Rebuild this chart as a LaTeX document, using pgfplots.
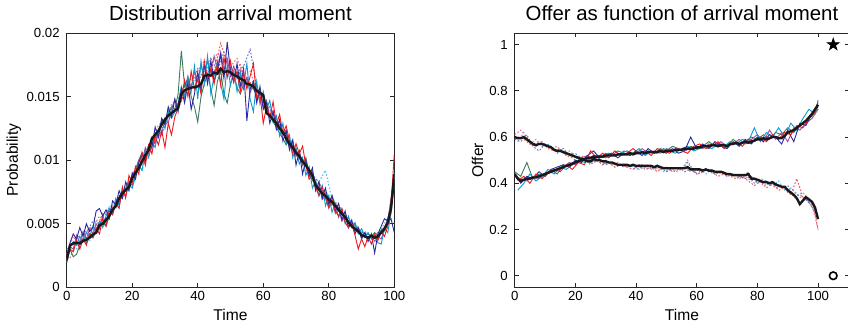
\documentclass[border=0pt]{standalone}
\usepackage{pgfplots}
\pgfplotsset{compat=1.18}
\usepackage{pgfplotstable}
\usepackage{fontspec}
\setmainfont{Liberation Sans}
\definecolor{cB}{rgb}{0.16,0.16,0.63}
\definecolor{cR}{rgb}{0.93,0.1,0.12}
\definecolor{cG}{rgb}{0.24,0.48,0.36}
\definecolor{cC}{rgb}{0.05,0.6,0.8}
\definecolor{cP}{rgb}{0.63,0.3,0.63}
\definecolor{dP}{rgb}{0.93,0.45,0.6}
\definecolor{dC}{rgb}{0.35,0.75,0.9}
\definecolor{dB}{rgb}{0.45,0.45,0.8}
\definecolor{dR}{rgb}{0.95,0.35,0.35}
\pgfdeclareplotmark{pstar}{%
\pgfpathmoveto{\pgfpointpolar{90}{\pgfplotmarksize}}%
\pgfpathlineto{\pgfpointpolar{126}{0.382\pgfplotmarksize}}%
\pgfpathlineto{\pgfpointpolar{162}{\pgfplotmarksize}}%
\pgfpathlineto{\pgfpointpolar{198}{0.382\pgfplotmarksize}}%
\pgfpathlineto{\pgfpointpolar{234}{\pgfplotmarksize}}%
\pgfpathlineto{\pgfpointpolar{270}{0.382\pgfplotmarksize}}%
\pgfpathlineto{\pgfpointpolar{306}{\pgfplotmarksize}}%
\pgfpathlineto{\pgfpointpolar{342}{0.382\pgfplotmarksize}}%
\pgfpathlineto{\pgfpointpolar{18}{\pgfplotmarksize}}%
\pgfpathlineto{\pgfpointpolar{54}{0.382\pgfplotmarksize}}%
\pgfpathclose\pgfusepathqfillstroke}

\pgfplotstableread{
x m a b c d e
0 215 240 200 220 190 250
1 330 350 300 300 310 320
2 345 420 280 240 360 300
3 350 380 370 260 330 410
4 345 470 300 330 400 350
5 365 400 380 380 360 440
6 375 500 330 350 430 380
7 390 440 420 420 400 460
8 415 470 390 390 480 420
9 430 600 470 440 430 500
10 490 620 420 470 520 460
11 500 560 540 510 470 560
12 530 610 480 480 560 510
13 560 540 600 560 620 620
14 610 680 570 600 580 580
15 640 650 660 640 700 680
16 700 760 620 690 640 650
17 740 700 790 720 760 760
18 765 830 700 780 720 720
19 790 760 880 820 810 830
20 860 900 820 880 780 800
21 900 850 950 930 870 890
22 940 980 890 1000 960 1000
23 990 1050 1060 1060 920 980
24 1040 990 960 1000 1080 1100
25 1080 1120 1120 1090 1020 1050
26 1170 1100 1050 1150 1140 1180
27 1200 1260 1190 1210 1100 1130
28 1230 1180 1120 1180 1230 1240
29 1280 1330 1230 1320 1300 1200
30 1320 1280 1100 1290 1250 1330
31 1350 1420 1290 1360 1390 1290
32 1370 1340 1200 1420 1330 1400
33 1390 1480 1340 1400 1380 1470
34 1410 1380 1410 1520 1450 1420
35 1520 1560 1480 1860 1580 1560
36 1550 1450 1630 1580 1500 1490
37 1560 1610 1500 1650 1660 1650
38 1570 1400 1700 1500 1540 1570
39 1575 1520 1560 1420 1740 1700
40 1580 1690 1640 1300 1480 1620
41 1600 1550 1520 1500 1780 1750
42 1660 1750 1780 1600 1600 1650
43 1670 1600 1640 1680 1820 1790
44 1665 1780 1720 1560 1520 1680
45 1690 1620 1600 1430 1660 1820
46 1680 1700 1760 1620 1780 1720
47 1720 1830 1590 1700 1600 1850
48 1690 1640 1810 1520 1480 1700
49 1700 1930 1650 1450 1750 1800
50 1690 1700 1780 1600 1590 1660
51 1670 1610 1620 1680 1700 1740
52 1660 1760 1700 1570 1540 1640
53 1640 1580 1540 1520 1680 1700
54 1630 1720 1690 1600 1590 1560
55 1600 1310 1560 1650 1760 1650
56 1595 1560 1660 1580 1480 1530
57 1580 1620 1760 1560 1380 1600
58 1545 1450 1490 1510 1620 1480
59 1530 1580 1520 1480 1440 1550
60 1510 1400 1290 1470 1540 1420
61 1370 1450 1420 1400 1400 1470
62 1350 1290 1330 1350 1470 1340
63 1320 1380 1460 1300 1300 1390
64 1290 1240 1280 1260 1350 1270
65 1250 1320 1360 1210 1190 1310
66 1220 1150 1210 1170 1290 1200
67 1170 1230 1270 1120 1130 1240
68 1130 1080 1150 1160 1200 1100
69 1100 1160 1050 1080 1020 1150
70 1060 960 1130 1040 1100 1030
71 1030 1070 1050 1060 970 1070
72 990 890 1110 960 1020 970
73 960 1000 960 1020 880 1000
74 920 870 850 900 950 880
75 880 940 880 840 780 910
76 800 760 790 820 840 760
77 770 830 720 780 720 800
78 740 700 790 730 800 690
79 720 780 700 700 640 720
80 690 650 630 670 720 620
81 670 720 690 720 590 680
82 640 600 600 650 660 580
83 610 660 560 600 550 620
84 580 530 620 570 610 520
85 550 600 510 550 500 560
86 510 470 470 520 560 470
87 480 530 500 480 470 510
88 460 420 410 500 510 440
89 440 470 300 440 420 470
90 410 380 380 420 460 400
91 400 430 320 410 400 430
92 390 360 400 420 430 380
93 405 420 340 400 380 410
94 390 270 420 430 420 360
95 400 420 370 410 350 400
96 430 480 440 450 340 380
97 460 540 400 470 460 450
98 510 520 480 520 430 520
99 620 540 650 600 580 700
100 890 430 1050 800 900 880
}\leftdata

\pgfplotstableread{
x up down
0 44 60
1 42 59.5
2 41 59.5
3 41.5 60
4 42 59
5 42 58
6 42.5 57
7 42.5 56.5
8 43 57
9 43.5 57
10 44 56.5
11 44.5 56
12 45 55.5
13 45.5 54.5
14 46 54
15 46.5 54
16 47 53.5
17 47.5 53
18 48 52.5
19 48.5 52
20 49 51.5
21 49.5 51
22 50 50.5
23 50.5 50
24 51 49.5
25 51 49.5
26 51.5 50.5
27 51.5 50
28 51.5 50
29 51.5 49.5
30 52 49.5
31 52 49
32 52 49
33 52 48.5
34 52.5 48
35 52.5 48
36 52.5 48
37 52.5 48
38 53 47.5
39 52.5 48
40 53 47.5
41 53 47.5
42 53.5 47.5
43 53 47.5
44 53.5 47.5
45 53.5 47.5
46 53.5 47
47 53.5 47.5
48 54 47
49 53.5 46.5
50 54 46.5
51 54 46.5
52 54 46.5
53 54.5 46.5
54 54.5 46.5
55 54.5 46.5
56 55 46.5
57 55 47
58 55 46
59 55 46
60 55.5 46
61 55.5 46
62 56 45.5
63 56 46
64 56 45.5
65 56.5 45.5
66 56.5 45
67 56 45
68 56.5 45
69 56.5 44.5
70 56 44
71 57 44
72 57 43.5
73 57.5 43.5
74 57 43.5
75 57.5 43.5
76 58 43.5
77 57.5 44
78 58 42
79 58.5 42
80 59 41.5
81 59 41
82 59.5 40.5
83 59 40.5
84 59.5 40
85 60 40.5
86 60 39.5
87 59.5 39
88 59.5 38.5
89 60.5 38.5
90 62 37
91 62.5 36
92 63 35
93 64 33.5
94 65 31
95 66 32.5
96 67 34
97 68.5 33
98 70 32
99 72 29.5
100 74 24.5
}\rightdata

\pgfplotsset{myaxis/.style={
  scale only axis, height=127.15pt,
  axis line style={line width=0.5pt, black!85},
  every tick/.style={black!85, line width=0.4pt},
  major tick length=2pt,
  tick label style={font=\fontsize{6.6}{7.5}\selectfont},
  label style={font=\fontsize{7.8}{9}\selectfont},
  title style={font=\fontsize{10.2}{12}\selectfont, at={(0.5,1)}, anchor=base, yshift=0.5pt},
  xlabel style={at={(axis description cs:0.5,0)}, anchor=base, yshift=-16.8pt},
  xtick={0,20,...,100},
  xticklabel style={inner sep=1.6pt},
  /pgf/number format/assume math mode=true,
  sol/.style={line width=0.45pt},
  dot/.style={line width=0.5pt, dash pattern=on 0.8pt off 0.9pt},
  mean/.style={line width=1.2pt, black!90},
}}

\begin{document}
\begin{tikzpicture}
\begin{axis}[myaxis, at={(33.35pt,20.85pt)}, anchor=south west, width=163.8pt,
  xmin=0, xmax=100, ymin=0, ymax=2000,
  ytick={0,500,1000,1500,2000}, yticklabels={0,0.005,0.01,0.015,0.02},
  title={Distribution arrival moment}, xlabel={Time}, ylabel={Probability},
  ylabel style={at={(axis description cs:-0.161,0.5)}, anchor=center}]
\addplot[dot, dP] coordinates {(0,260) (2,400) (4,330) (6,450) (8,470) (10,560) (12,500) (14,650) (16,660) (18,800) (20,850) (22,960) (24,1080) (26,1130) (28,1280) (30,1300) (32,1440) (34,1480) (36,1600) (38,1650) (40,1700) (42,1780) (44,1750) (46,1840) (48,1780) (50,1740) (52,1800) (54,1660) (56,1700) (58,1560) (60,1500) (62,1420) (64,1300) (66,1250) (68,1150) (70,1100) (72,980) (74,940) (76,820) (78,800) (80,700) (82,660) (84,600) (86,520) (88,500) (90,430) (92,420) (94,400) (96,430) (98,520) (100,850)};
\addplot[dot, dC] coordinates {(1,280) (3,300) (5,420) (7,360) (9,520) (11,480) (13,640) (15,620) (17,780) (19,760) (21,940) (23,920) (25,1100) (27,1150) (29,1310) (31,1340) (33,1480) (35,1500) (37,1640) (39,1620) (41,1720) (43,1680) (45,1800) (47,1700) (49,1770) (51,1640) (53,1720) (55,1580) (57,1600) (59,1460) (61,1440) (63,1360) (65,1280) (67,1160) (69,1120) (71,1010) (73,960) (75,870) (77,830) (79,920) (81,690) (83,650) (85,560) (87,520) (89,440) (91,440) (93,400) (95,420) (97,500) (99,600)};
\addplot[dot, dB] coordinates {(0,300) (2,340) (4,410) (6,430) (8,520) (10,500) (12,600) (14,620) (16,720) (18,760) (20,880) (22,930) (24,1020) (26,1090) (28,1200) (30,1290) (32,1380) (34,1400) (36,1540) (38,1590) (40,1720) (42,1640) (44,1800) (46,1700) (48,1850) (50,1720) (52,1680) (54,1740) (56,1870) (58,1580) (60,1500) (62,1400) (64,1330) (66,1220) (68,1180) (70,1060) (72,1020) (74,900) (76,860) (78,780) (80,720) (82,640) (84,620) (86,540) (88,480) (90,440) (92,380) (94,420) (96,440) (98,480) (100,820)};
\addplot[dot, dR] coordinates {(1,230) (3,350) (5,380) (7,470) (9,450) (11,580) (13,560) (15,690) (17,700) (19,850) (21,880) (23,980) (25,1020) (27,1180) (29,1200) (31,1320) (33,1380) (35,1460) (37,1600) (39,1680) (41,1650) (43,1760) (45,1700) (47,1920) (49,1760) (51,1700) (53,1750) (55,1600) (57,1620) (59,1480) (61,1420) (63,1320) (65,1260) (67,1200) (69,1080) (71,1040) (73,920) (75,880) (77,780) (79,740) (81,640) (83,600) (85,560) (87,480) (89,460) (91,400) (93,380) (95,400) (97,460) (99,620)};
\addplot[sol, cG] table[x=x, y=c] {\leftdata};
\addplot[sol, cP] table[x=x, y=e] {\leftdata};
\addplot[sol, cC] table[x=x, y=d] {\leftdata};
\addplot[sol, cB] table[x=x, y=a] {\leftdata};
\addplot[sol, cR] table[x=x, y=b] {\leftdata};
\addplot[mean] table[x=x, y=m] {\leftdata};
\end{axis}

\begin{axis}[myaxis, at={(257.35pt,20.85pt)}, anchor=south west, width=167.3pt,
  xmin=0, xmax=110.3, ymin=-5, ymax=105,
  ytick={0,20,...,100}, yticklabels={0,0.2,0.4,0.6,0.8,1},
  title={Offer as function of arrival moment}, xlabel={Time}, ylabel={Offer},
  ylabel style={at={(axis description cs:-0.111,0.5)}, anchor=center}]
\addplot[dot, dP] coordinates {(0,61) (2,63) (4,60) (6,57) (8,58) (10,57) (12,55) (14,56) (16,53) (18,54) (20,51) (22,52) (24,50) (26,51) (28,49) (30,50) (32,48) (34,49) (36,47) (38,48) (40,47) (42,48) (44,46) (46,47) (48,46) (50,47) (52,45) (54,46) (56,47) (58,45) (60,46) (62,45) (64,46) (66,44) (68,45) (70,43) (72,44) (74,42) (76,43) (78,41) (80,42) (82,39) (84,40) (86,38) (88,39) (90,36) (92,37) (94,34) (96,33) (98,31) (100,20)};
\addplot[dot, dC] coordinates {(1,58) (3,62) (5,57) (7,59) (9,56) (11,57) (13,54) (15,55) (17,52) (19,53) (21,50) (23,51) (25,49) (27,50) (29,48) (31,49) (33,47) (35,48) (37,47) (39,48) (41,46) (43,47) (45,46) (47,48) (49,45) (51,46) (53,47) (55,46) (57,50) (59,45) (61,46) (63,44) (65,46) (67,44) (69,45) (71,43) (73,44) (75,42) (77,45) (79,40) (81,42) (83,41) (85,39) (87,41) (89,37) (91,38) (93,35) (95,36) (97,33) (99,28)};
\addplot[dot, dB] coordinates {(0,59) (2,58) (4,61) (6,56) (8,54) (10,57) (12,56) (14,53) (16,55) (18,52) (20,53) (22,50) (24,51) (26,49) (28,50) (30,48) (32,49) (34,48) (36,47) (38,48) (40,46) (42,47) (44,48) (46,46) (48,47) (50,45) (52,46) (54,47) (56,45) (58,46) (60,44) (62,46) (64,45) (66,44) (68,45) (70,43) (72,44) (74,43) (76,42) (78,43) (80,40) (82,41) (84,39) (86,40) (88,38) (90,39) (92,34) (94,35) (96,33) (98,30) (100,26)};
\addplot[dot, dR] coordinates {(1,60) (3,59) (5,57) (7,56) (9,58) (11,55) (13,54) (15,55) (17,52) (19,51) (21,49) (23,51) (25,48) (27,50) (29,48) (31,49) (33,47) (35,48) (37,47) (39,46) (41,48) (43,46) (45,47) (47,45) (49,47) (51,46) (53,45) (55,46) (57,49) (59,45) (61,44) (63,46) (65,45) (67,43) (69,44) (71,43) (73,42) (75,43) (77,41) (79,39) (81,41) (83,38) (85,40) (87,37) (89,38) (91,35) (93,42) (95,34) (97,32) (99,27) (100,20)};
\addplot[sol, cG] coordinates {(0,45) (2,43) (4,49) (6,42) (8,44) (10,43) (12,46) (14,44) (16,48) (18,47) (20,49) (22,51) (24,50) (26,52) (28,51) (30,53) (32,52) (34,54) (36,53) (38,52) (40,54) (42,53) (44,54) (46,53) (48,55) (50,54) (52,56) (54,55) (56,54) (58,56) (60,55) (62,56) (64,58) (66,56) (68,57) (70,56) (72,59) (74,57) (76,58) (78,60) (80,59) (82,61) (84,59) (86,62) (88,61) (90,64) (92,62) (94,65) (96,67) (98,69) (100,72)};
\addplot[sol, cP] coordinates {(0,43) (2,42) (4,41) (6,43) (8,42) (10,44) (12,45) (14,46) (16,47) (18,49) (20,48) (22,51) (24,52) (26,50) (28,52) (30,51) (32,53) (34,52) (36,54) (38,53) (40,53) (42,55) (44,53) (46,54) (48,53) (50,55) (52,54) (54,55) (56,54) (58,55) (60,56) (62,55) (64,57) (66,56) (68,58) (70,56) (72,57) (74,59) (76,57) (78,59) (80,61) (82,58) (84,63) (86,59) (88,62) (90,58) (92,64) (94,63) (96,66) (98,68) (100,72)};
\addplot[sol, cC] coordinates {(1,37) (3,40) (5,44) (7,41) (9,43) (11,46) (13,44) (15,47) (17,46) (19,48) (21,50) (23,49) (25,51) (27,50) (29,52) (31,53) (33,52) (35,53) (37,54) (39,53) (41,55) (43,52) (45,54) (47,53) (49,55) (51,54) (53,53) (55,55) (57,56) (59,54) (61,55) (63,56) (65,55) (67,57) (69,56) (71,58) (73,57) (75,59) (77,58) (79,64) (81,58) (83,62) (85,60) (87,64) (89,60) (91,66) (93,63) (95,68) (97,72) (99,70) (100,76)};
\addplot[sol, cB] coordinates {(0,44) (2,40) (4,43) (6,42) (8,45) (10,43) (12,46) (14,47) (16,48) (18,47) (20,50) (22,49) (24,52) (26,54) (28,51) (30,52) (32,53) (34,51) (36,53) (38,52) (40,54) (42,52) (44,55) (46,53) (48,54) (50,53) (52,55) (54,53) (56,54) (58,60) (60,55) (62,57) (64,55) (66,58) (68,56) (70,55) (72,58) (74,56) (76,59) (78,57) (80,60) (82,58) (84,61) (86,60) (88,57) (90,63) (92,58) (94,66) (96,65) (98,70) (100,73)};
\addplot[sol, cR] coordinates {(1,41) (3,43) (5,40) (7,44) (9,42) (11,45) (13,46) (15,45) (17,48) (19,46) (21,49) (23,48) (25,54) (27,51) (29,53) (31,51) (33,54) (35,52) (37,53) (39,55) (41,53) (43,54) (45,52) (47,55) (49,54) (51,53) (53,55) (55,54) (57,53) (59,56) (61,57) (63,55) (65,56) (67,58) (69,55) (71,57) (73,58) (75,56) (77,59) (79,58) (81,60) (83,58) (85,61) (87,59) (89,62) (91,61) (93,65) (95,64) (97,68) (99,71) (100,75)};
\addplot[mean] table[x=x, y=up] {\rightdata};
\addplot[mean] table[x=x, y=down] {\rightdata};
\addplot[only marks, mark=pstar, mark size=3.1pt, black, mark options={fill=black}] coordinates {(105,100)};
\addplot[only marks, mark=o, mark size=1.9pt, black, mark options={line width=0.8pt}] coordinates {(105,0)};
\end{axis}
\pgfresetboundingbox
\path[use as bounding box] (0,0) rectangle (424pt,164.5pt);
\end{tikzpicture}
\end{document}
